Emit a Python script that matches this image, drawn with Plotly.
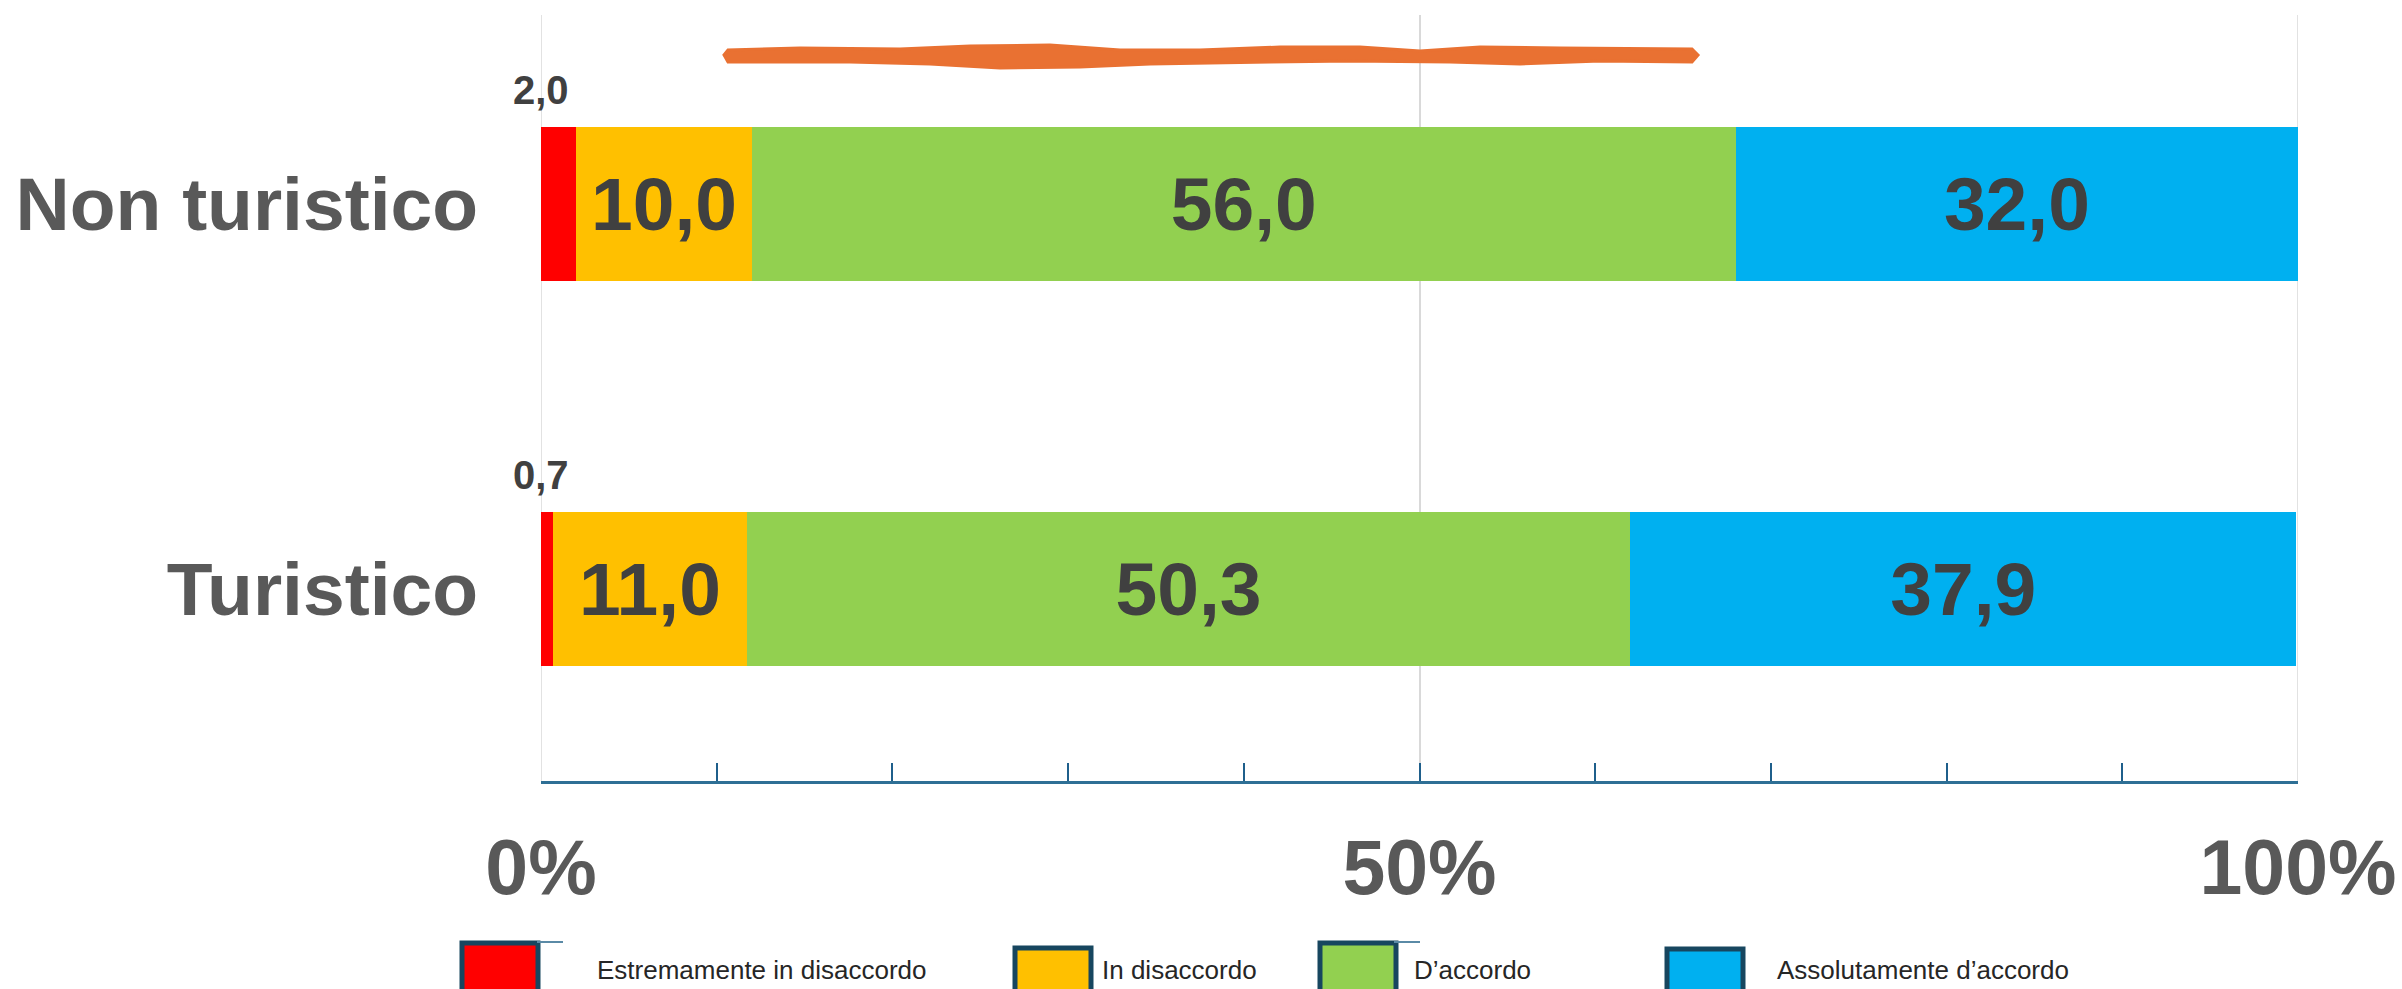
import plotly.graph_objects as go

# --- data ---
categories = ["Turistico", "Non turistico"]
series_names = ["Estremamente in disaccordo", "In disaccordo", "D’accordo", "Assolutamente d’accordo"]
estremamente_disaccordo = [0.7, 2.0]
in_disaccordo = [11.0, 10.0]
d_accordo = [50.3, 56.0]
assolutamente_accordo = [37.9, 32.0]
x_tickvals = [0, 50, 100]
x_ticktext = ["0%", "50%", "100%"]

series_values = [estremamente_disaccordo, in_disaccordo, d_accordo, assolutamente_accordo]
colors = ["#FF0000", "#FFC000", "#92D050", "#00B0F0"]

# --- page geometry (pixels) ---
W, H = 2402, 989
L, R, T, B = 541, 2298, 15, 781

FONT = "Arial, Liberation Sans, sans-serif"
LABEL_COLOR = "#404040"
AXIS_COLOR = "#1F5F8B"
GRID_COLOR = "#D9D9D9"


def px_x(p):
    return (p - L) / (R - L)


def px_y(p):
    return (B - p) / (B - T)


def fmt(v):
    return f"{v:.1f}".replace(".", ",")


fig = go.Figure()

for i, (name, vals) in enumerate(zip(series_names, series_values)):
    small = i == 0
    fig.add_trace(go.Bar(
        y=categories,
        x=vals,
        name=name,
        orientation="h",
        width=0.4,
        marker={"color": colors[i], "line": {"width": 0}},
        text=None if small else [fmt(v) for v in vals],
        textposition="none" if small else "inside",
        insidetextanchor="middle",
        textangle=0,
        textfont={"family": FONT, "size": 75, "color": LABEL_COLOR, "weight": "bold"},
        showlegend=False,
        hoverinfo="skip",
    ))

# small values above the red segments
annotations = []
for cat, v in zip(categories, estremamente_disaccordo):
    annotations.append(dict(
        x=0, y=cat, xref="x", yref="y",
        text=fmt(v), showarrow=False,
        xanchor="center", yanchor="bottom", yshift=90,
        font={"family": FONT, "size": 40, "color": LABEL_COLOR, "weight": "bold"},
    ))

shapes = []
# gridlines at the ends of the range (plotly hides them next to the axis frame)
for xv in (x_tickvals[0], x_tickvals[-1]):
    shapes.append(dict(
        type="line", xref="x", yref="paper", x0=xv, x1=xv, y0=0, y1=1,
        line={"color": GRID_COLOR, "width": 1.5}, layer="below",
    ))

# legend drawn by hand (large framed squares)
leg_left = [462, 1015, 1320, 1667]
leg_top = [943, 948, 943, 949]
leg_text_x = [595, 1100, 1412, 1775]
for i, name in enumerate(series_names):
    shapes.append(dict(
        type="rect", xref="paper", yref="paper",
        x0=px_x(leg_left[i]), x1=px_x(leg_left[i] + 76),
        y0=px_y(leg_top[i]), y1=px_y(H + 20),
        fillcolor=colors[i], line={"color": "#17465F", "width": 5},
    ))
    annotations.append(dict(
        x=px_x(leg_text_x[i]), y=px_y(970), xref="paper", yref="paper",
        text=name, showarrow=False, xanchor="left", yanchor="middle",
        font={"family": FONT, "size": 26, "color": "#262626"},
    ))
for x0 in (541, 1398):
    shapes.append(dict(
        type="line", xref="paper", yref="paper",
        x0=px_x(x0 - 4), x1=px_x(x0 + 22), y0=px_y(942), y1=px_y(942),
        line={"color": "#5A8AA6", "width": 2},
    ))

# orange hand-drawn stroke on top
top_edge = [(724, 55), (728, 50), (800, 48), (900, 49), (970, 46), (1050, 45), (1120, 50),
            (1200, 50), (1280, 47), (1360, 47), (1420, 51), (1480, 47), (1560, 48),
            (1692, 49), (1698, 55)]
bot_edge = [(1692, 62), (1600, 61), (1520, 64), (1450, 62), (1350, 61), (1270, 62),
            (1150, 64), (1080, 67), (1000, 68), (930, 64), (850, 62), (728, 62)]
pts = top_edge + bot_edge
path = "M " + " L ".join(f"{px_x(x):.5f},{px_y(y):.5f}" for x, y in pts) + " Z"
shapes.append(dict(
    type="path", xref="paper", yref="paper", path=path,
    fillcolor="#E97132", line={"color": "#E97132", "width": 3},
))

fig.update_layout(
    barmode="stack",
    width=W, height=H,
    margin={"l": L, "r": W - R, "t": T, "b": H - B, "pad": 0, "autoexpand": False},
    paper_bgcolor="white",
    plot_bgcolor="white",
    separators=",.",
    font={"family": FONT},
    showlegend=False,
    annotations=annotations,
    shapes=shapes,
    xaxis={
        "range": [0, 100],
        "automargin": False,
        "tickvals": x_tickvals,
        "ticktext": x_ticktext,
        "showgrid": True,
        "gridcolor": GRID_COLOR,
        "gridwidth": 1.5,
        "zeroline": False,
        "showline": True,
        "linecolor": "#2E6F95",
        "linewidth": 3,
        "ticks": "inside",
        "ticklen": 18,
        "tickwidth": 2,
        "tickcolor": AXIS_COLOR,
        "minor": {"dtick": 10, "ticks": "inside", "ticklen": 18, "tickwidth": 1.5,
                  "tickcolor": AXIS_COLOR, "showgrid": False},
        "ticklabelstandoff": 18,
        "tickfont": {"family": FONT, "size": 77, "color": "#595959", "weight": "bold"},
        "fixedrange": True,
    },
    yaxis={
        "type": "category",
        "automargin": False,
        "categoryorder": "array",
        "categoryarray": categories,
        "range": [-0.5, 1.49],
        "showgrid": False,
        "zeroline": False,
        "showline": False,
        "ticks": "",
        "ticklabelstandoff": 62,
        "tickfont": {"family": FONT, "size": 75, "color": "#595959", "weight": "bold"},
        "fixedrange": True,
    },
)

fig.write_html(
    "out.html",
    config={"displayModeBar": False},
    post_script="document.body.style.margin='0';document.body.style.overflow='hidden';",
)
